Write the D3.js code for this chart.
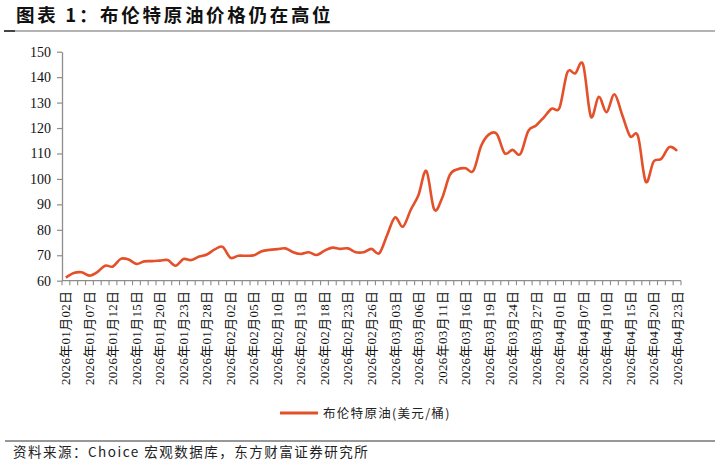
<!DOCTYPE html>
<html><head><meta charset="utf-8">
<script src="https://cdn.jsdelivr.net/npm/d3@7/dist/d3.min.js"></script>
<style>body{margin:0;background:#fff}svg{display:block}</style>
</head><body>
<svg id="c" width="720" height="465"></svg>
<script>
const dates = [
"2026年01月02日","2026年01月05日","2026年01月06日","2026年01月07日","2026年01月08日","2026年01月09日",
"2026年01月12日","2026年01月13日","2026年01月14日","2026年01月15日","2026年01月16日","2026年01月19日",
"2026年01月20日","2026年01月21日","2026年01月22日","2026年01月23日","2026年01月26日","2026年01月27日",
"2026年01月28日","2026年01月29日","2026年01月30日","2026年02月02日","2026年02月03日","2026年02月04日",
"2026年02月05日","2026年02月06日","2026年02月09日","2026年02月10日","2026年02月11日","2026年02月12日",
"2026年02月13日","2026年02月16日","2026年02月17日","2026年02月18日","2026年02月19日","2026年02月20日",
"2026年02月23日","2026年02月24日","2026年02月25日","2026年02月26日","2026年02月27日","2026年03月02日",
"2026年03月03日","2026年03月04日","2026年03月05日","2026年03月06日","2026年03月09日","2026年03月10日",
"2026年03月11日","2026年03月12日","2026年03月13日","2026年03月16日","2026年03月17日","2026年03月18日",
"2026年03月19日","2026年03月20日","2026年03月23日","2026年03月24日","2026年03月25日","2026年03月26日",
"2026年03月27日","2026年03月30日","2026年03月31日","2026年04月01日","2026年04月02日","2026年04月06日",
"2026年04月07日","2026年04月08日","2026年04月09日","2026年04月10日","2026年04月13日","2026年04月14日",
"2026年04月15日","2026年04月16日","2026年04月17日","2026年04月20日","2026年04月21日","2026年04月22日",
"2026年04月23日"];
const brent = [
61.2,63.0,63.3,62.0,63.4,65.9,
65.6,68.6,68.3,66.6,67.6,67.7,
67.9,68.1,65.9,68.5,68.1,69.5,
70.3,72.3,73.3,69.0,69.8,69.8,
70.0,71.6,72.1,72.4,72.7,71.2,
70.5,71.2,70.1,71.8,73.0,72.5,
72.7,71.2,71.2,72.5,70.8,78.0,
84.9,81.2,87.8,93.7,103.1,88.0,
92.4,101.6,103.8,104.2,103.2,113.0,
117.5,117.6,110.1,111.4,109.8,118.8,
121.0,124.2,127.6,128.0,141.9,141.5,
145.0,124.5,132.3,126.2,133.3,125.1,
116.8,116.9,98.9,106.8,107.9,112.5,
111.0];
const yTicks = [60,70,80,90,100,110,120,130,140,150];
const seriesName = "布伦特原油(美元/桶)";
const titleText = "图表 1：布伦特原油价格仍在高位";
const sourceText = "资料来源：Choice 宏观数据库，东方财富证券研究所";

const svg = d3.select("#c");
const lineColor = "#E4502A";
const axisColor = "#8c8c8c";
const serif = "'Liberation Serif','Times New Roman','Noto Sans CJK SC',serif";
const cjk = "'Noto Sans CJK SC','Noto Sans',sans-serif";

// Title
svg.append("text").attr("x", 16).attr("y", 22)
  .attr("font-family", cjk).attr("font-weight", "bold").attr("font-size", 18.5)
  .attr("letter-spacing", 2.7).attr("fill", "#111").text(titleText);
svg.append("line").attr("x1", 5).attr("x2", 715).attr("y1", 31).attr("y2", 31)
  .attr("stroke", "#9a9a9a").attr("stroke-width", 1.5);
svg.append("line").attr("x1", 4).attr("x2", 15).attr("y1", 31).attr("y2", 31)
  .attr("stroke", "#444").attr("stroke-width", 2);

const x = d3.scaleBand().domain(dates).range([62, 681]);
const y = d3.scaleLinear().domain([60, 150]).range([280.7, 51.7]);
const bw = x.bandwidth();

// Y axis
const yAxis = svg.append("g").attr("transform", "translate(62,0)")
  .call(d3.axisLeft(y).tickValues(yTicks).tickSize(5).tickPadding(6).tickSizeOuter(0));
yAxis.select(".domain").attr("stroke", axisColor).attr("stroke-width", 1.3);
yAxis.selectAll(".tick line").attr("stroke", axisColor).attr("stroke-width", 1.2);
yAxis.selectAll("text").attr("font-family", serif).attr("font-size", 14).attr("fill", "#111");

// X axis
const xg = svg.append("g");
xg.append("line").attr("x1", 62).attr("x2", 681).attr("y1", y(60)).attr("y2", y(60))
  .attr("stroke", axisColor).attr("stroke-width", 1.3);
const bounds = dates.map(d => x(d)).concat([x(dates[dates.length - 1]) + bw]);
xg.selectAll("line.tk").data(bounds).enter().append("line").attr("class", "tk")
  .attr("x1", d => d).attr("x2", d => d).attr("y1", y(60)).attr("y2", y(60) + 4.5)
  .attr("stroke", axisColor).attr("stroke-width", 1.1);
const labelDates = dates.filter((d, i) => i % 3 === 0);
xg.selectAll("text").data(labelDates).enter().append("text")
  .attr("transform", d => `translate(${x(d) + bw / 2 + 4.5},${y(60) + 10}) rotate(-90)`)
  .attr("text-anchor", "end").attr("font-family", serif).attr("font-size", 13)
  .attr("letter-spacing", 0.3).attr("fill", "#111").text(d => d);

// Line
const line = d3.line().x((d, i) => x(dates[i]) + bw / 2).y(d => y(d))
  .curve(d3.curveCatmullRom.alpha(0));
svg.append("path").datum(brent).attr("d", line).attr("fill", "none")
  .attr("stroke", lineColor).attr("stroke-width", 2.6).attr("stroke-linejoin", "round");

// Legend
svg.append("line").attr("x1", 280).attr("x2", 318).attr("y1", 413).attr("y2", 413)
  .attr("stroke", lineColor).attr("stroke-width", 3);
svg.append("text").attr("x", 323).attr("y", 417.5).attr("font-family", cjk)
  .attr("font-size", 12.5).attr("letter-spacing", 1.3).attr("fill", "#222").text(seriesName);

// Bottom rule and source
svg.append("line").attr("x1", 5).attr("x2", 715).attr("y1", 441).attr("y2", 441)
  .attr("stroke", "#333").attr("stroke-width", 1.2);
svg.append("text").attr("x", 13).attr("y", 457).attr("font-family", cjk)
  .attr("font-size", 13.5).attr("letter-spacing", 1.5).attr("fill", "#222").text(sourceText);
</script>
</body></html>
